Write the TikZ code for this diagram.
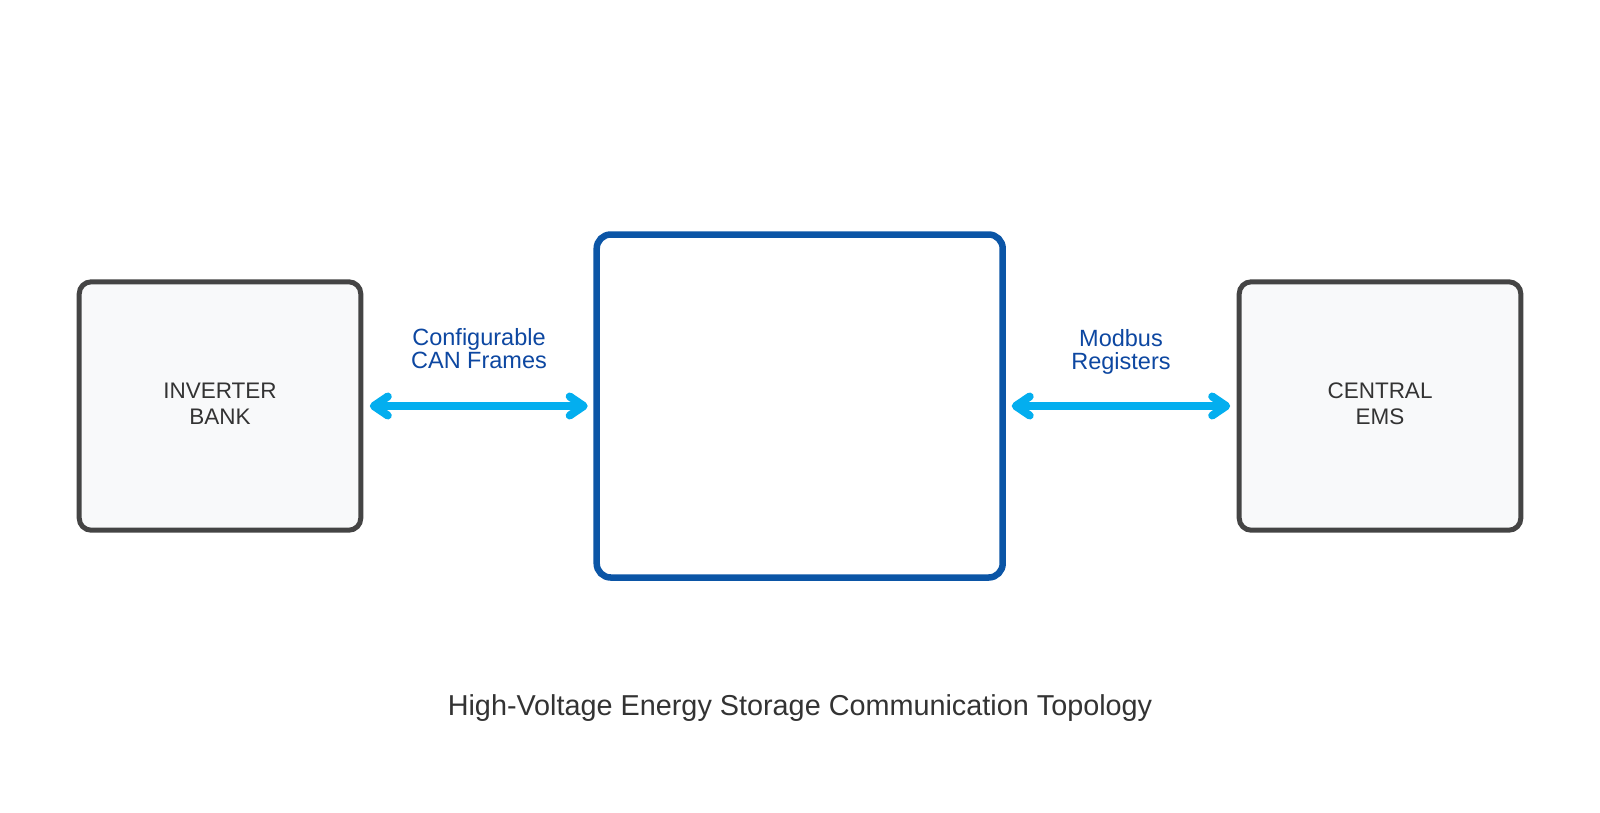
\documentclass[tikz,border=0pt]{standalone}
\usepackage{fontspec}
\setmainfont{Liberation Sans}
\usetikzlibrary{arrows.meta}
\definecolor{boxfill}{HTML}{F8F9FA}
\definecolor{boxline}{HTML}{444444}
\definecolor{corebl}{HTML}{0B55A6}
\definecolor{arrowc}{HTML}{03AEEF}
\definecolor{lblblue}{HTML}{0D47A1}
\definecolor{txtgray}{HTML}{333333}
\tikzset{
  sidebox/.style={draw=boxline, fill=boxfill, line width=5pt, rounded corners=12pt,
    minimum width=281.6pt, minimum height=248.4pt, inner sep=0pt, outer sep=0pt},
  boxtext/.style={align=center, text=txtgray, font=\fontsize{22.5}{26}\selectfont, inner sep=0pt},
  corebox/.style={draw=corebl, fill=white, line width=6.5pt, rounded corners=14pt,
    minimum width=406pt, minimum height=343pt, inner sep=0pt, outer sep=0pt},
  barbtip/.tip={Straight Barb[round, length=14pt, width=19pt, line width=8pt]},
  link/.style={draw=arrowc, line width=8pt, barbtip-barbtip,
    shorten <=9pt, shorten >=9pt},
  linklabel/.style={align=center, text=lblblue, font=\fontsize{23.5}{23.6}\selectfont, inner sep=0pt},
  caption/.style={text=txtgray, font=\fontsize{28.8}{32}\selectfont, inner sep=0pt}
}
\begin{document}
\begin{tikzpicture}[x=1pt, y=-1pt]
\useasboundingbox (0,0) rectangle (1600,812);
\node[sidebox] (inv) at (220,406) {};
\node[boxtext] (invtxt) at (220,404) {INVERTER\\BANK};
\node[corebox] (core) at (799.7,406) {};
\node[sidebox] (ems) at (1380,406) {};
\node[boxtext] (emstxt) at (1380,404) {CENTRAL\\EMS};
\draw[link] (inv.east) -- (core.west);
\draw[link] (core.east) -- (ems.west);
\node[linklabel] (canlbl) at (479,348.5) {Configurable\\CAN Frames};
\node[linklabel] (modlbl) at (1121,352) {Modbus\\Registers};
\node[caption] (cap) at (800,708.5) {High-Voltage Energy Storage Communication Topology};
\end{tikzpicture}
\end{document}
